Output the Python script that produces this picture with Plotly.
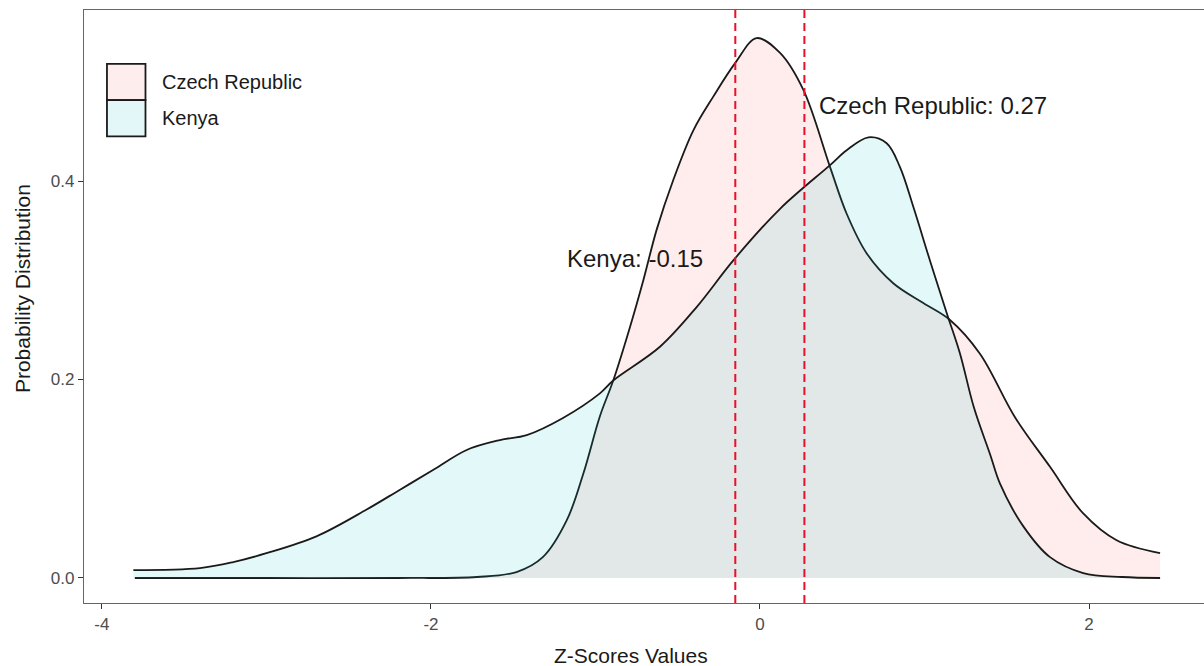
import plotly.graph_objects as go

# Density estimates of standardised scores for two countries
countries = ["Czech Republic", "Kenya"]
means = [0.27, -0.15]

czech_x = [-3.80, -3.00, -2.20, -1.72, -1.48, -1.32, -1.175, -1.074, -0.973, -0.892,
           -0.790, -0.709, -0.628, -0.527, -0.405, -0.284, -0.15, -0.02, 0.122, 0.263,
           0.426, 0.527, 0.649, 0.810, 0.993, 1.155, 1.337, 1.55, 1.763, 1.965, 2.168, 2.432]
czech_y = [0.000, 0.000, 0.000, 0.001, 0.006, 0.021, 0.058, 0.105, 0.163, 0.199,
           0.253, 0.300, 0.351, 0.401, 0.451, 0.485, 0.519, 0.544, 0.529, 0.492,
           0.414, 0.367, 0.327, 0.297, 0.277, 0.260, 0.226, 0.162, 0.112, 0.065, 0.038, 0.025]

kenya_x = [-3.809, -3.404, -3.202, -3.000, -2.696, -2.391, -2.188, -1.985, -1.783, -1.581,
           -1.418, -1.20, -0.973, -0.892, -0.608, -0.385, -0.162, 0.122, 0.426, 0.527,
           0.659, 0.770, 0.851, 0.932, 1.033, 1.135, 1.216, 1.30, 1.40, 1.459, 1.601,
           1.763, 1.965, 2.20, 2.432]
kenya_y = [0.008, 0.010, 0.016, 0.025, 0.042, 0.069, 0.089, 0.109, 0.129, 0.139,
           0.144, 0.161, 0.186, 0.199, 0.233, 0.273, 0.320, 0.372, 0.416, 0.431,
           0.444, 0.438, 0.414, 0.374, 0.320, 0.267, 0.226, 0.172, 0.124, 0.095, 0.052,
           0.021, 0.005, 0.001, 0.000]

x_ticks = [-4, -2, 0, 2]
y_ticks = [0.0, 0.2, 0.4]

# label anchor points (data coordinates) for the mean annotations
label_x = [1.049, -0.757]
label_y = [0.4756, 0.322]

fill_colors = ["rgba(248,118,109,0.13)", "rgba(0,191,196,0.11)"]
key_colors = ["#FDEDEC", "#E3F7F8"]
FONT = "Liberation Sans, Arial, sans-serif"

fig = go.Figure()
for name, xs, ys, fc in zip(countries, [czech_x, kenya_x], [czech_y, kenya_y], fill_colors):
    fig.add_trace(go.Scatter(
        x=xs, y=ys, name=name, mode="lines",
        line=dict(color="#1a1a1a", width=1.8, shape="spline", smoothing=1.0),
        fill="tozeroy", fillcolor=fc, showlegend=False, hoverinfo="x+y+name",
    ))

# mean markers
for m in means:
    fig.add_vline(x=m, line=dict(color="#E8102A", width=2, dash="8px,5px"))

for name, m, lx, ly in zip(countries, means, label_x, label_y):
    fig.add_annotation(x=lx, y=ly, xref="x", yref="y", text=f"{name}: {m:.2f}",
                       showarrow=False, font=dict(family=FONT, size=24, color="#1a1a1a"),
                       xanchor="center", yanchor="middle")

# legend keys drawn inside the panel, top-left
key_x0, key_x1 = 0.0205, 0.0549
key_tops = [0.909, 0.848]
key_h = 0.061
for name, top, kc in zip(countries, key_tops, key_colors):
    fig.add_shape(type="rect", xref="paper", yref="paper",
                  x0=key_x0, x1=key_x1, y0=top - key_h, y1=top,
                  fillcolor=kc, line=dict(color="#1a1a1a", width=1.8))
    fig.add_annotation(x=0.0679, y=top - key_h / 2, xref="paper", yref="paper", text=name,
                       showarrow=False, xanchor="left", yanchor="middle",
                       font=dict(family=FONT, size=20, color="#1a1a1a"))

# axis titles
fig.add_annotation(x=0.4884, y=-0.088, xref="paper", yref="paper", text="Z-Scores Values",
                   showarrow=False, xanchor="center", yanchor="middle",
                   font=dict(family=FONT, size=21, color="#1a1a1a"))
fig.add_annotation(x=-0.0554, y=0.531, xref="paper", yref="paper", text="Probability Distribution",
                   showarrow=False, xanchor="center", yanchor="middle", textangle=-90,
                   font=dict(family=FONT, size=21, color="#1a1a1a"))

axis_common = dict(showgrid=False, zeroline=False, showline=True, mirror=True,
                   linecolor="#666666", linewidth=1.2, ticks="outside", ticklen=5,
                   tickcolor="#333333", tickwidth=1.2,
                   tickfont=dict(family=FONT, size=17, color="#4d4d4d"))

fig.update_layout(
    width=1204, height=666,
    margin=dict(l=84, r=0, t=10, b=63),
    paper_bgcolor="white", plot_bgcolor="white",
    xaxis=dict(range=[-4.109, 2.699], tickvals=x_ticks,
               ticktext=[f"{v:d}" for v in x_ticks], **axis_common),
    yaxis=dict(range=[-0.0252, 0.5723], tickvals=y_ticks,
               ticktext=[f"{v:.1f}" for v in y_ticks], **axis_common),
)

fig.write_html("out.html")
